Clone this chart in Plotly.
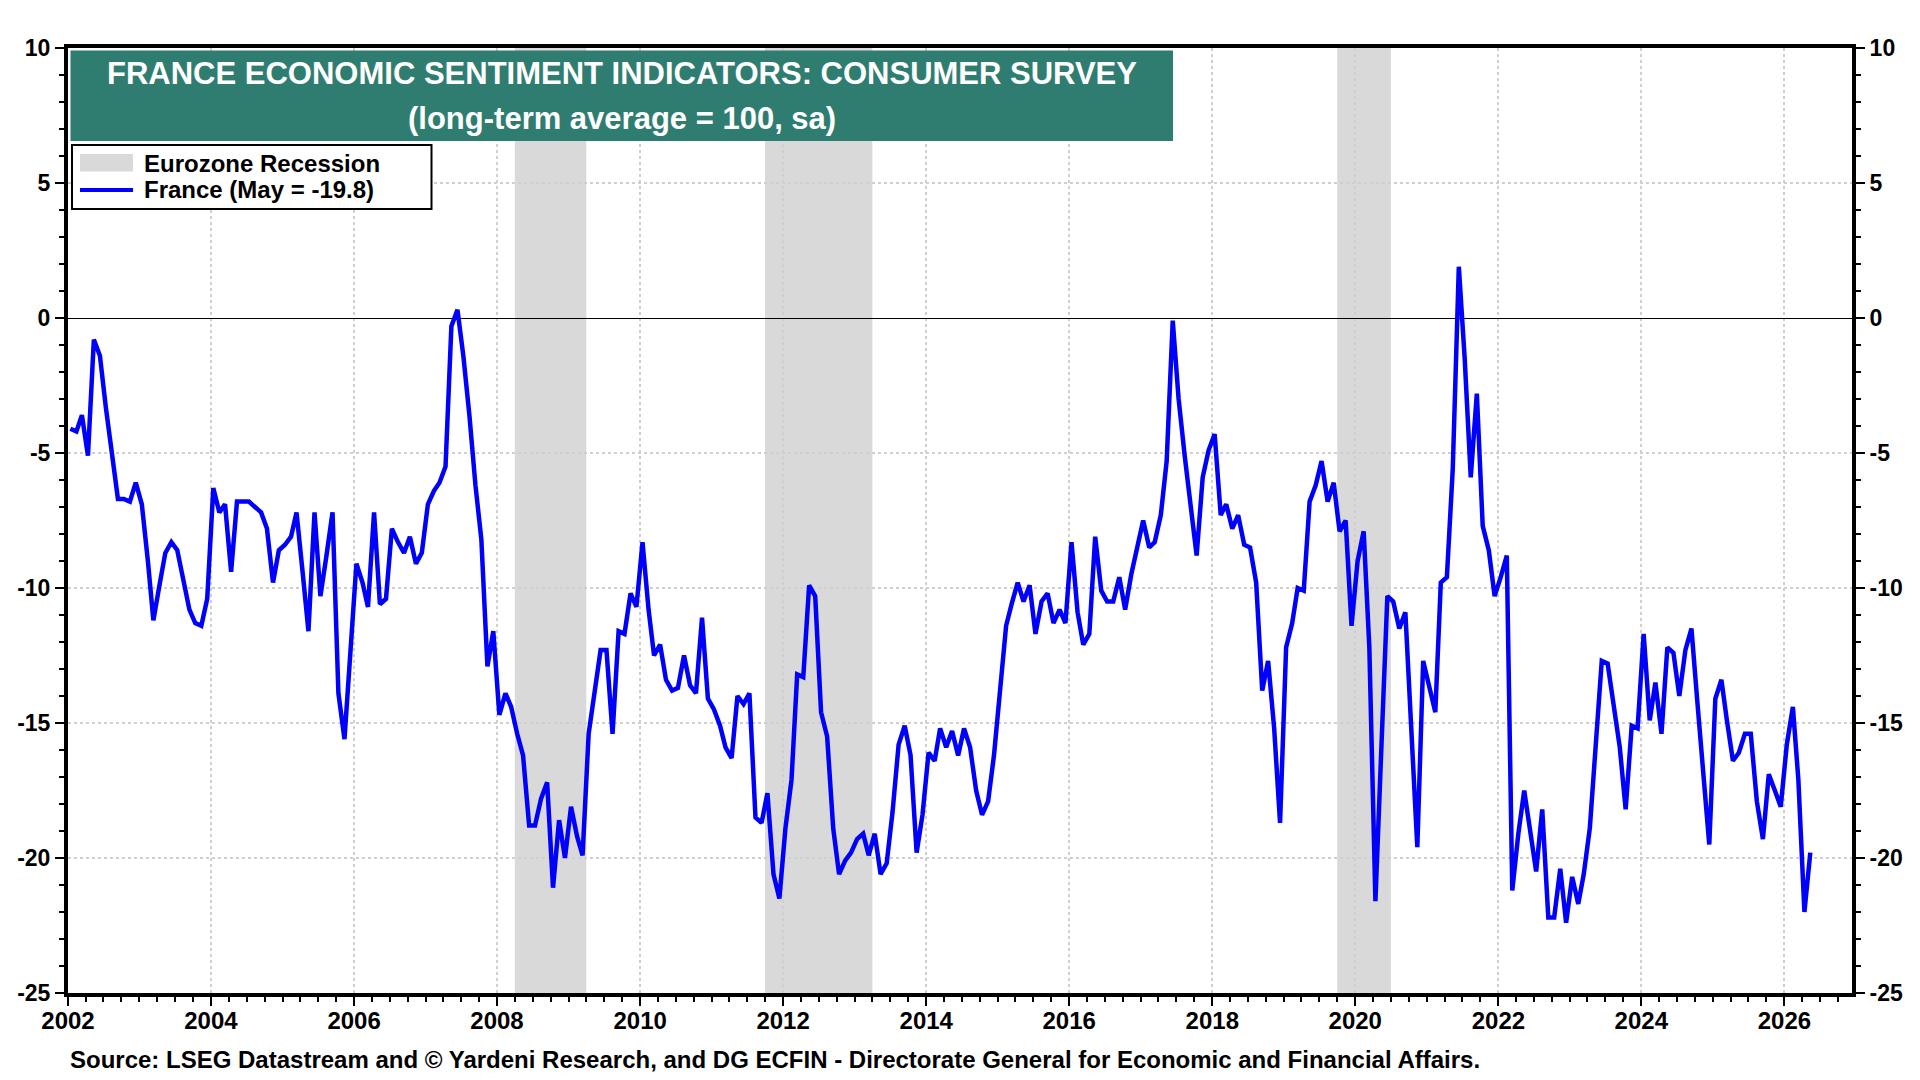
import pandas as pd
import plotly.graph_objects as go

# France consumer confidence, monthly Jan 2002 .. May 2026
france = [
    -4.1, -4.2, -3.6, -5.1, -0.8, -1.4, -3.3, -5.0, -6.7, -6.7, -6.8, -6.1,        # 2002
    -6.9, -9.0, -11.2, -9.9, -8.7, -8.3, -8.6, -9.7, -10.8, -11.3, -11.4, -10.4,  # 2003
    -6.3, -7.2, -6.9, -9.4, -6.8, -6.8, -6.8, -7.0, -7.2, -7.8, -9.8, -8.6,       # 2004
    -8.4, -8.1, -7.2, -9.4, -11.6, -7.2, -10.3, -8.8, -7.2, -13.9, -15.6, -12.4,  # 2005
    -9.1, -9.8, -10.7, -7.2, -10.6, -10.4, -7.8, -8.3, -8.7, -8.1, -9.1, -8.7,    # 2006
    -6.9, -6.4, -6.1, -5.5, -0.3, 0.3, -1.4, -3.6, -6.2, -8.2, -12.9, -11.6,      # 2007
    -14.7, -13.9, -14.4, -15.4, -16.2, -18.8, -18.8, -17.8, -17.2, -21.1, -18.6, -20.0,  # 2008
    -18.1, -19.2, -19.9, -15.4, -13.9, -12.3, -12.3, -15.4, -11.6, -11.7, -10.2, -10.7,  # 2009
    -8.3, -10.8, -12.5, -12.1, -13.4, -13.8, -13.7, -12.5, -13.6, -13.9, -11.1, -14.1,   # 2010
    -14.5, -15.1, -15.9, -16.3, -14.0, -14.3, -13.9, -18.5, -18.7, -17.6, -20.6, -21.5,  # 2011
    -18.9, -17.1, -13.2, -13.3, -9.9, -10.3, -14.6, -15.5, -18.9, -20.6, -20.1, -19.8,   # 2012
    -19.3, -19.1, -19.9, -19.1, -20.6, -20.2, -18.3, -15.8, -15.1, -16.2, -19.8, -18.4,  # 2013
    -16.1, -16.4, -15.2, -15.9, -15.3, -16.2, -15.2, -15.9, -17.5, -18.4, -17.9, -16.2,  # 2014
    -13.8, -11.4, -10.6, -9.8, -10.5, -9.9, -11.7, -10.5, -10.2, -11.3, -10.8, -11.3,    # 2015
    -8.3, -10.9, -12.1, -11.7, -8.1, -10.1, -10.5, -10.5, -9.6, -10.8, -9.5, -8.6,       # 2016
    -7.5, -8.5, -8.3, -7.3, -5.3, -0.1, -3.0, -5.1, -7.0, -8.8, -5.9, -4.9,              # 2017
    -4.3, -7.3, -6.9, -7.8, -7.3, -8.4, -8.5, -9.8, -13.8, -12.7, -15.2, -18.7,          # 2018
    -12.2, -11.3, -10.0, -10.1, -6.8, -6.2, -5.3, -6.8, -6.1, -7.9, -7.5, -11.4,         # 2019
    -9.0, -7.9, -12.2, -21.6, -16.0, -10.3, -10.5, -11.5, -10.9, -15.0, -19.6, -12.7,    # 2020
    -13.7, -14.6, -9.8, -9.6, -5.6, 1.9, -1.5, -5.9, -2.8, -7.7, -8.6, -10.3,            # 2021
    -9.6, -8.8, -21.2, -19.1, -17.5, -19.0, -20.5, -18.2, -22.2, -22.2, -20.4, -22.4,    # 2022
    -20.7, -21.7, -20.6, -18.9, -15.8, -12.7, -12.8, -14.3, -15.9, -18.2, -15.1, -15.2,  # 2023
    -11.7, -14.9, -13.5, -15.4, -12.2, -12.4, -14.0, -12.3, -11.5, -14.2, -16.9, -19.5,  # 2024
    -14.1, -13.4, -14.9, -16.4, -16.1, -15.4, -15.4, -17.9, -19.3, -16.9, -17.5, -18.1,  # 2025
    -15.8, -14.4, -17.1, -22.0, -19.8,                                                   # 2026
]
start_month = "2002-01-01"

rec_start = ["2008-04-01", "2011-10-01", "2019-10-01"]
rec_end = ["2009-04-01", "2013-04-01", "2020-07-01"]

y_ticks = [10, 5, 0, -5, -10, -15, -20, -25]
y_labels = [str(v) for v in y_ticks]

title1 = "FRANCE ECONOMIC SENTIMENT INDICATORS: CONSUMER SURVEY"
title2 = "(long-term average = 100, sa)"
legend_rec = "Eurozone Recession"
legend_fr = "France (May = -19.8)"
source = "Source: LSEG Datastream and © Yardeni Research, and DG ECFIN - Directorate General for Economic and Financial Affairs."

dates = pd.date_range(start_month, periods=len(france), freq="MS") + pd.Timedelta(days=12)

W, H = 1920, 1080
L, R, T, B = 68, 1852, 48, 993
FONT = "Liberation Sans"


def px(x):
    return (x - L) / (R - L)


def py(y):
    return (B - y) / (B - T)


fig = go.Figure()
fig.add_trace(go.Scatter(x=dates, y=france, mode="lines",
                         line=dict(color="#0000ff", width=4.5),
                         showlegend=False, hoverinfo="skip"))
fig.add_trace(go.Scatter(x=[dates[0]], y=[None], yaxis="y2", mode="lines",
                         showlegend=False, hoverinfo="skip"))

for s, e in zip(rec_start, rec_end):
    fig.add_shape(type="rect", xref="x", yref="paper", x0=s, x1=e, y0=0, y1=1,
                  fillcolor="#d9d9d9", line_width=0, layer="below")

# title box
fig.add_shape(type="rect", xref="paper", yref="paper",
              x0=px(70.5), x1=px(1173), y0=py(141), y1=py(50.5),
              fillcolor="#2f7d71", line_width=0, layer="above")
fig.add_annotation(xref="paper", yref="paper", x=px(622), y=py(73.5),
                   text=title1, showarrow=False, xanchor="center", yanchor="middle",
                   font=dict(family=FONT, size=31, color="white", weight="bold"))
fig.add_annotation(xref="paper", yref="paper", x=px(622), y=py(118),
                   text=title2, showarrow=False, xanchor="center", yanchor="middle",
                   font=dict(family=FONT, size=31, color="white", weight="bold"))

# legend box
fig.add_shape(type="rect", xref="paper", yref="paper",
              x0=px(72), x1=px(431.5), y0=py(209), y1=py(145),
              fillcolor="white", line=dict(color="black", width=2), layer="above")
fig.add_shape(type="rect", xref="paper", yref="paper",
              x0=px(80), x1=px(133), y0=py(171.5), y1=py(154),
              fillcolor="#d9d9d9", line_width=0, layer="above")
fig.add_shape(type="line", xref="paper", yref="paper",
              x0=px(80), x1=px(133), y0=py(190), y1=py(190),
              line=dict(color="#0000ff", width=4), layer="above")
fig.add_annotation(xref="paper", yref="paper", x=px(142), y=py(163),
                   text=legend_rec, showarrow=False, xanchor="left", yanchor="middle",
                   font=dict(family=FONT, size=24, color="black", weight="bold"))
fig.add_annotation(xref="paper", yref="paper", x=px(142), y=py(189),
                   text=legend_fr, showarrow=False, xanchor="left", yanchor="middle",
                   font=dict(family=FONT, size=24, color="black", weight="bold"))

# source
fig.add_annotation(xref="paper", yref="paper", x=px(68), y=py(1059),
                   text=source, showarrow=False, xanchor="left", yanchor="middle",
                   font=dict(family=FONT, size=24, color="black", weight="bold"))

grid = dict(showgrid=True, gridcolor="#cfcfcf", gridwidth=2, griddash="dot")
yax = dict(range=[-25, 10], tickmode="array", tickvals=y_ticks, ticktext=y_labels,
           ticks="outside", ticklen=9, tickwidth=2, tickcolor="black",
           showline=True, linewidth=4, linecolor="black",
           tickfont=dict(family=FONT, size=23, color="black", weight="bold"),
           minor=dict(dtick=1, tick0=0, ticks="outside", ticklen=5, tickwidth=2,
                      tickcolor="black", showgrid=False),
           fixedrange=True)

fig.update_layout(
    width=W, height=H,
    margin=dict(l=L, r=W - R, t=T, b=H - B, autoexpand=False),
    paper_bgcolor="white", plot_bgcolor="white",
    showlegend=False,
    xaxis=dict(type="date", range=["2002-01-01", "2026-12-12"],
               tick0="2002-01-01", dtick="M24", tickformat="%Y",
               ticks="outside", ticklen=9, tickwidth=2, tickcolor="black",
               ticklabelstandoff=-6,
               showline=True, linewidth=4, linecolor="black", mirror=True,
               tickfont=dict(family=FONT, size=24, color="black", weight="bold"),
               minor=dict(dtick="M3", tick0="2002-01-01", ticks="outside", ticklen=5,
                          tickwidth=2, tickcolor="black", showgrid=False),
               **grid),
    yaxis=dict(**yax, mirror=True, zeroline=True, zerolinecolor="black",
               zerolinewidth=1, **grid),
    yaxis2=dict(**yax, overlaying="y", side="right", showgrid=False, zeroline=False),
)

fig.write_html("out.html")
